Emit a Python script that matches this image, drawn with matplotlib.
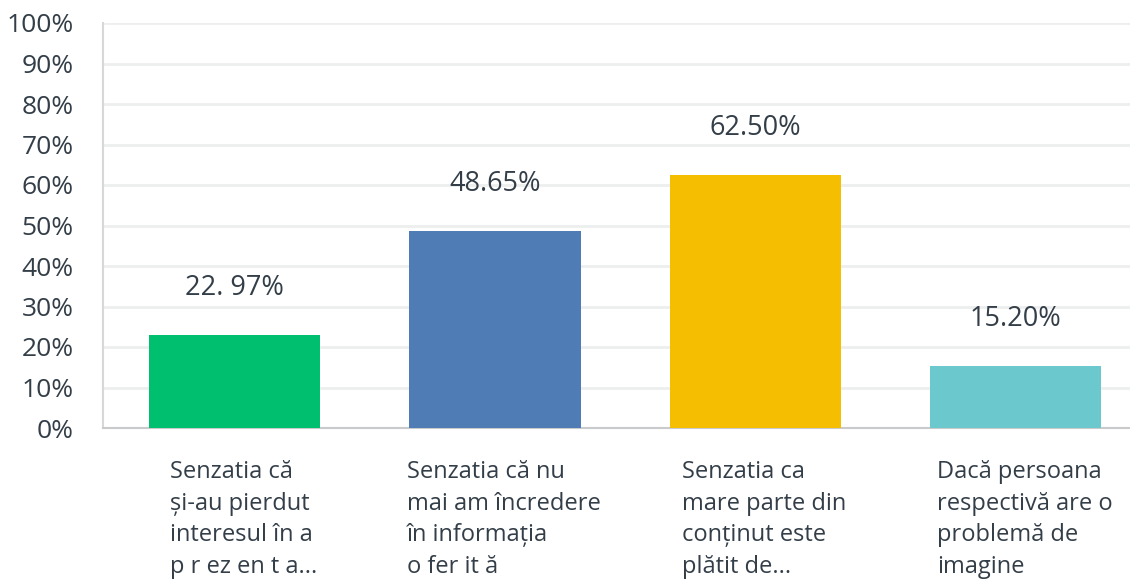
import matplotlib.pyplot as plt
import numpy as np

# chart data
categories = [
    "Senzatia că\nși-au pierdut\ninteresul în a\np r ez en t a...",
    "Senzatia că nu\nmai am încredere\nîn informația\no fer it ă",
    "Senzatia ca\nmare parte din\nconținut este\nplătit de...",
    "Dacă persoana\nrespectivă are o\nproblemă de\nimagine",
]
values = [22.97, 48.65, 62.50, 15.20]
value_labels = ["22. 97%", "48.65%", "62.50%", "15.20%"]
colors = ["#00BF6F", "#507CB6", "#F6BE00", "#6BC8CD"]
yticks = [0, 10, 20, 30, 40, 50, 60, 70, 80, 90, 100]

text_color = "#333E48"
plt.rcParams['font.family'] = ['Open Sans', 'DejaVu Sans']

fig = plt.figure(figsize=(11.3, 5.81), dpi=100)
ax = fig.add_axes([103 / 1130, 153 / 581, 1 - 103 / 1130, 405 / 581])

x = np.arange(len(values))
ax.bar(x, values, width=0.658, color=colors, zorder=3)

for xi, v, lab in zip(x, values, value_labels):
    ax.annotate(lab, (xi, v), xytext=(0, 34), textcoords="offset points",
                ha="center", va="center", fontsize=19.5, color=text_color)

ax.set_ylim(0, 100)
ax.set_xlim(-0.506, 3.44)
ax.set_yticks(yticks)
ax.set_yticklabels([f"{t}%" for t in yticks], fontsize=19, color=text_color)
ax.tick_params(axis="y", length=0, pad=21)
ax.yaxis.grid(True, color="#EDEEEE", linewidth=2, zorder=0)

ax.set_xticks(x + 0.035)
ax.set_xticklabels(categories, fontsize=17, color=text_color,
                   ha="center", va="top", multialignment="left", linespacing=1.42)
ax.tick_params(axis="x", length=0, pad=23)

for side in ["top", "right"]:
    ax.spines[side].set_visible(False)
ax.spines["left"].set_color("#D5D7D8")
ax.spines["left"].set_linewidth(1.5)
ax.spines["bottom"].set_color("#C8CACB")
ax.spines["bottom"].set_linewidth(1.5)

fig.savefig("out.png", dpi=100)
